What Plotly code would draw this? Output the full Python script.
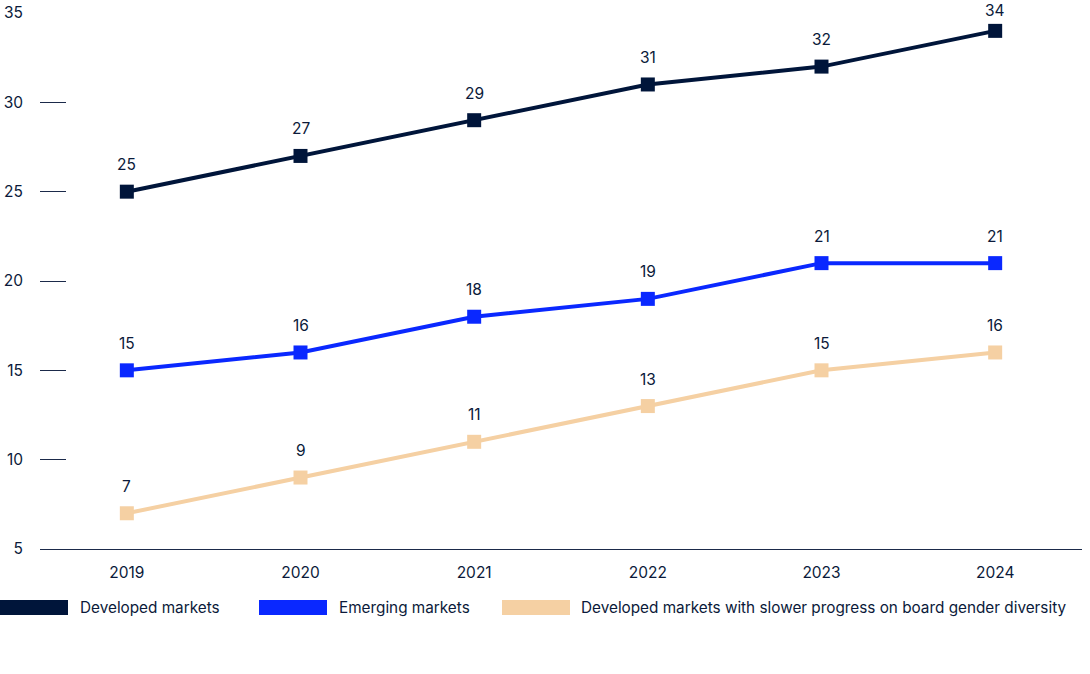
import plotly.graph_objects as go

years = ["2019", "2020", "2021", "2022", "2023", "2024"]
developed = [25, 27, 29, 31, 32, 34]
emerging = [15, 16, 18, 19, 21, 21]
slower = [7, 9, 11, 13, 15, 16]
series_names = ["Developed markets", "Emerging markets",
                "Developed markets with slower progress on board gender diversity"]
colors = ["#00153A", "#0A28FF", "#F5D0A3"]
y_ticks = [5, 10, 15, 20, 25, 30, 35]

TEXT = "#0B1A3A"
FONT = "Inter"
Y_MIN, Y_MAX = 5, 35
TOP, BOTTOM = 13, 549  # plot area pixel rows
PX_PER_UNIT = (BOTTOM - TOP) / (Y_MAX - Y_MIN)

fig = go.Figure()
for name, vals, col in zip(series_names, [developed, emerging, slower], colors):
    fig.add_trace(go.Scatter(
        x=years, y=vals, name=name, mode="lines+markers",
        line=dict(color=col, width=4),
        marker=dict(symbol="square", size=14, color=col),
        showlegend=False, cliponaxis=False,
    ))
    for i, v in enumerate(vals):
        ypix = TOP + (Y_MAX - v) * PX_PER_UNIT
        shift = min(27, ypix - 10)
        fig.add_annotation(x=i, y=v, text=str(v), showarrow=False, yshift=shift,
                           font=dict(family=FONT, size=15.5, color=TEXT))

# manual legend
legend_items = [(0, 78), (259, 337), (502, 579)]
for (rx, tx), name, col in zip(legend_items, series_names, colors):
    fig.add_shape(type="rect", xref="paper", yref="paper",
                  x0=(rx - 40) / 1042, x1=(rx + 68 - 40) / 1042,
                  y0=-(600 - 549) / 536, y1=-(615 - 549) / 536,
                  fillcolor=col, line=dict(width=0))
    fig.add_annotation(xref="paper", yref="paper", x=(tx - 40) / 1042,
                       y=-(607.5 - 549) / 536, xanchor="left", yanchor="middle",
                       text=name, showarrow=False,
                       font=dict(family=FONT, size=15.3, color=TEXT))

fig.update_layout(
    width=1090, height=674,
    margin=dict(l=40, r=8, t=TOP, b=674 - BOTTOM, autoexpand=False),
    paper_bgcolor="white", plot_bgcolor="white",
    font=dict(family=FONT, size=15, color=TEXT),
    xaxis=dict(type="category", range=[-0.5, 5.5], showgrid=False, automargin=False,
               showline=True, linecolor="#1B2A4A", linewidth=1,
               ticks="", tickfont=dict(size=15.5, color=TEXT), ticklabelstandoff=9,
               zeroline=False),
    yaxis=dict(range=[Y_MIN, Y_MAX], tickvals=y_ticks, showgrid=False, zeroline=False,
               automargin=False,
               showline=False, ticks="inside", ticklen=26, tickwidth=1,
               tickcolor="#1B2A4A", tickfont=dict(size=15.5, color=TEXT),
               ticklabelstandoff=16),
)

fig.write_html("out.html", config={"displayModeBar": False},
               post_script="document.body.style.margin='0';")
